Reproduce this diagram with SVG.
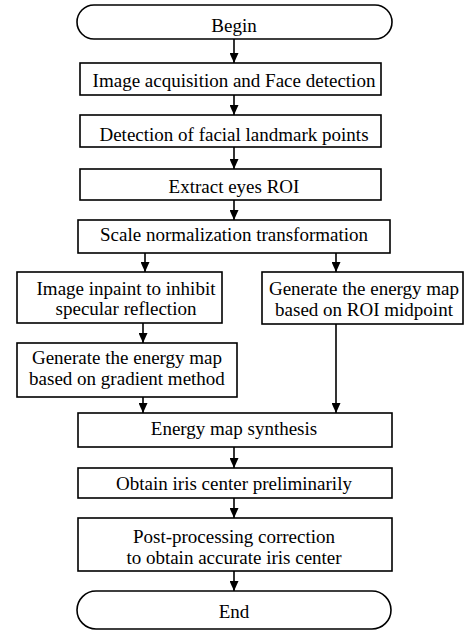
<svg xmlns="http://www.w3.org/2000/svg" width="468" height="631" viewBox="0 0 468 631">
<style>
.b{fill:#fff;stroke:#000;stroke-width:1.6}
.t{fill:#000;text-anchor:middle}
.c{stroke:#000;stroke-width:1.6;fill:none;marker-end:url(#a)}
</style>
<defs>
<marker id="a" markerWidth="10" markerHeight="9" refX="10" refY="4.5" orient="auto" markerUnits="userSpaceOnUse" viewBox="0 0 10 9"><path d="M0,0 L10,4.5 L0,9 Z" fill="#000"/></marker>
</defs>
<rect width="468" height="631" fill="#fff"/>
<g id="connectors">
<line class="c" x1="234" y1="39" x2="234" y2="63"/>
<line class="c" x1="234" y1="95" x2="234" y2="115"/>
<line class="c" x1="234" y1="147" x2="234" y2="169"/>
<line class="c" x1="234" y1="200" x2="234" y2="220"/>
<line class="c" x1="145" y1="253" x2="145" y2="272"/>
<line class="c" x1="336" y1="253" x2="336" y2="272"/>
<line class="c" x1="143" y1="323" x2="143" y2="343"/>
<line class="c" x1="143" y1="397" x2="143" y2="413"/>
<line class="c" x1="336" y1="324" x2="336" y2="413"/>
<line class="c" x1="234" y1="447" x2="234" y2="468"/>
<line class="c" x1="234" y1="498" x2="234" y2="518"/>
<line class="c" x1="234" y1="571" x2="234" y2="591"/>
</g>
<g font-family="Liberation Serif, Times New Roman, serif" font-size="19">
<g id="begin"><rect class="b" x="77" y="5" width="315" height="34" rx="17"/><text class="t" x="234" y="31.5">Begin</text></g>
<g id="acq"><rect class="b" x="80" y="63" width="301" height="32"/><text class="t" x="234" y="87">Image acquisition and Face detection</text></g>
<g id="landmark"><rect class="b" x="80" y="115" width="301" height="32"/><text class="t" x="234" y="141">Detection of facial landmark points</text></g>
<g id="roi"><rect class="b" x="80" y="169" width="301" height="31"/><text class="t" x="234" y="193">Extract eyes ROI</text></g>
<g id="scale"><rect class="b" x="78" y="220" width="312" height="33"/><text class="t" x="234" y="241">Scale normalization transformation</text></g>
<g id="inpaint"><rect class="b" x="17" y="272" width="205" height="51"/><text class="t" x="126" y="295">Image inpaint to inhibit</text><text class="t" x="126" y="315">specular reflection</text></g>
<g id="midpoint"><rect class="b" x="262" y="272" width="201" height="52"/><text class="t" x="364" y="295">Generate the energy map</text><text class="t" x="364" y="316">based on ROI midpoint</text></g>
<g id="gradient"><rect class="b" x="17" y="343" width="220" height="54"/><text class="t" x="127" y="364">Generate the energy map</text><text class="t" x="127" y="385">based on gradient method</text></g>
<g id="synth"><rect class="b" x="78" y="413" width="314" height="34"/><text class="t" x="234" y="435">Energy map synthesis</text></g>
<g id="prelim"><rect class="b" x="78" y="468" width="314" height="30"/><text class="t" x="234" y="490">Obtain iris center preliminarily</text></g>
<g id="post"><rect class="b" x="78" y="518" width="314" height="53"/><text class="t" x="234" y="543">Post-processing correction</text><text class="t" x="234" y="564">to obtain accurate iris center</text></g>
<g id="end"><rect class="b" x="77" y="591" width="314" height="38" rx="19"/><text class="t" x="234" y="618">End</text></g>
</g>
</svg>
